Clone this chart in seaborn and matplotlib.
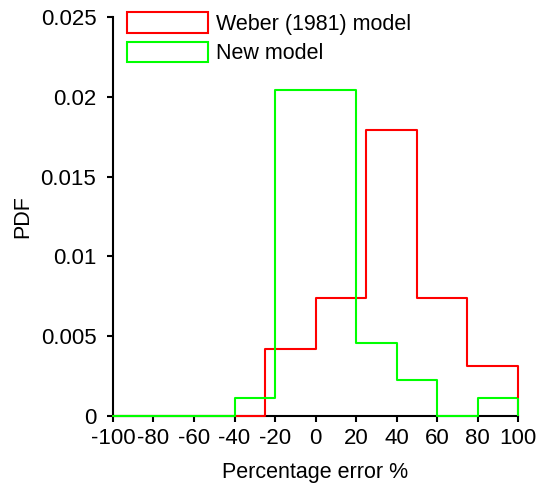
import numpy as np
import pandas as pd
import matplotlib
matplotlib.use("Agg")
import matplotlib.pyplot as plt
import seaborn as sns
from matplotlib.patches import Patch

# Data (densities)
weber_edges = [-100, -75, -50, -25, 0, 25, 50, 75, 100]
weber_pdf = [0, 0, 0, 0.0042, 0.0074, 0.0179, 0.0074, 0.0031]
new_edges = [-100, -80, -60, -40, -20, 0, 20, 40, 60, 80, 100]
new_pdf = [0, 0, 0, 0.00114, 0.02045, 0.02045, 0.00455, 0.00227, 0, 0.00114]
x_ticks = list(range(-100, 101, 20))
y_ticks = [0, 0.005, 0.01, 0.015, 0.02, 0.025]
y_tick_labels = ["0", "0.005", "0.01", "0.015", "0.02", "0.025"]

RED = "#ff0000"
GREEN = "#00ff00"

sns.set_theme(style="ticks")
plt.rcParams["font.family"] = ["Liberation Sans", "DejaVu Sans"]
plt.rcParams["text.color"] = "black"

fig = plt.figure(figsize=(5.38, 4.91), dpi=100)
ax = fig.add_axes([0.210, 0.153, 0.753, 0.812])

def centers(edges):
    e = np.asarray(edges, dtype=float)
    return (e[:-1] + e[1:]) / 2

df_w = pd.DataFrame({"x": centers(weber_edges), "w": weber_pdf})
df_n = pd.DataFrame({"x": centers(new_edges), "w": new_pdf})

line_kw = dict(element="step", fill=False, stat="count", linewidth=1.5, zorder=3, clip_on=False)
sns.histplot(data=df_w, x="x", weights="w", bins=weber_edges, color=RED, ax=ax, **line_kw)
sns.histplot(data=df_n, x="x", weights="w", bins=new_edges, color=GREEN, ax=ax, **line_kw)
# close the outlines at the right-most bin edge
ax.vlines(weber_edges[-1], 0, weber_pdf[-1], color=RED, linewidth=1.5, zorder=3, clip_on=False)
ax.vlines(new_edges[-1], 0, new_pdf[-1], color=GREEN, linewidth=1.5, zorder=3, clip_on=False)

ax.set_xlim(-100, 100)
ax.set_ylim(0, 0.025)
ax.set_xticks(x_ticks)
ax.set_xticklabels([str(t) for t in x_ticks])
ax.set_yticks(y_ticks)
ax.set_yticklabels(y_tick_labels)
ax.set_xlabel("Percentage error %", fontsize=15.5, color="black", labelpad=9)
ax.set_ylabel("PDF", fontsize=15.5, color="black", labelpad=5)
ax.tick_params(axis="both", labelsize=16, colors="black", length=4, width=1.5, direction="out")
ax.tick_params(axis="y", pad=8)
ax.tick_params(axis="x", pad=5)

for s in ["top", "right"]:
    ax.spines[s].set_visible(False)
for s in ["left", "bottom"]:
    ax.spines[s].set_color("black")
    ax.spines[s].set_linewidth(1.5)

handles = [Patch(facecolor="none", edgecolor=RED, linewidth=1.5, label="Weber (1981) model"),
           Patch(facecolor="none", edgecolor=GREEN, linewidth=1.5, label="New model")]
ax.legend(handles=handles, loc="upper left", bbox_to_anchor=(0.035, 1.012), frameon=False,
          fontsize=15.5, handlelength=3.75, handleheight=1.1, handletextpad=0.4,
          labelspacing=0.3, borderpad=0, borderaxespad=0, labelcolor="black")

fig.savefig("out.png", dpi=100)
